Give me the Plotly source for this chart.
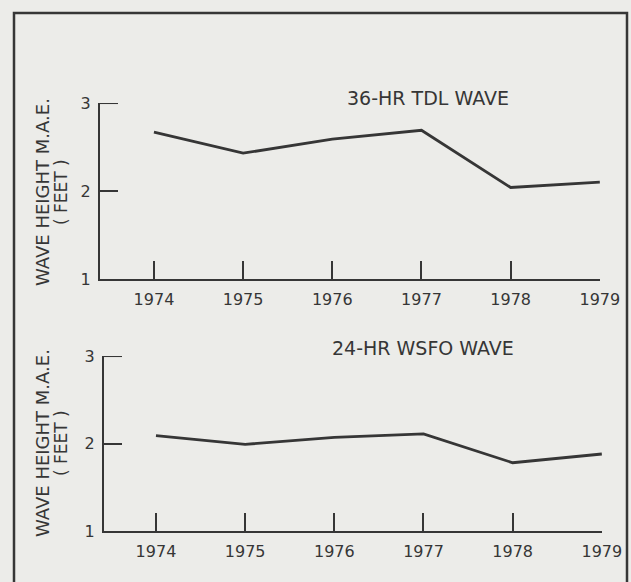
import plotly.graph_objects as go

years = [1974, 1975, 1976, 1977, 1978, 1979]
tdl_36hr = [2.67, 2.43, 2.59, 2.69, 2.04, 2.10]
wsfo_24hr = [2.09, 1.99, 2.07, 2.11, 1.78, 1.88]
y_ticks = [1, 2, 3]
panel_titles = ["36-HR TDL WAVE", "24-HR WSFO WAVE"]
y_title = "WAVE HEIGHT M.A.E."
y_subtitle = "( FEET )"

W, H = 631, 582
BG = "#ecece9"
INK = "#363636"
FONT = "DejaVu Sans"
TICKLEN = 18

def px(x):
    return x / W

def py(y):
    return (H - y) / H

fig = go.Figure()
fig.add_trace(go.Scatter(x=years, y=tdl_36hr, mode="lines", xaxis="x", yaxis="y",
                         line=dict(color=INK, width=2.8), showlegend=False, hoverinfo="skip"))
fig.add_trace(go.Scatter(x=years, y=wsfo_24hr, mode="lines", xaxis="x2", yaxis="y2",
                         line=dict(color=INK, width=2.8), showlegend=False, hoverinfo="skip"))

def xaxis(domain, rng, anchor):
    return dict(domain=domain, range=rng, anchor=anchor, tickvals=years,
                ticktext=[str(y) for y in years], showline=True, linecolor=INK, linewidth=2,
                ticks="inside", ticklen=TICKLEN, tickwidth=2, tickcolor=INK, showgrid=False,
                zeroline=False, tickfont=dict(family=FONT, size=16, color=INK),
                ticklabelstandoff=5, automargin=False)

def yaxis(domain, anchor):
    return dict(domain=domain, range=[0.9995, 3.0005], anchor=anchor, tickvals=y_ticks,
                ticktext=[str(v) for v in y_ticks], showline=True, linecolor=INK, linewidth=2,
                ticks="inside", ticklen=TICKLEN, tickwidth=2, tickcolor=INK, showgrid=False,
                zeroline=False, tickfont=dict(family=FONT, size=16, color=INK),
                ticklabelstandoff=4, automargin=False)

x1_dom = [px(100), px(600)]
x2_dom = [px(104), px(602)]
fig.update_layout(
    xaxis=xaxis(x1_dom, [1973.395, 1979.002], "y"),
    yaxis=yaxis([py(279), py(103)], "x"),
    xaxis2=xaxis(x2_dom, [1973.417, 1979.002], "y2"),
    yaxis2=yaxis([py(531), py(356)], "x2"),
)

annotations = []
for title, (tx, ty), (lx, ly, sx) in zip(
        panel_titles,
        [(428, 98), (423, 348)],
        [(42, 192, 61), (42, 443, 61)]):
    annotations.append(dict(x=px(tx), y=py(ty), xref="paper", yref="paper", text=title,
                            showarrow=False, font=dict(family=FONT, size=19, color=INK),
                            xanchor="center", yanchor="middle"))
    annotations.append(dict(x=px(lx), y=py(ly), xref="paper", yref="paper", text=y_title,
                            textangle=-90, showarrow=False,
                            font=dict(family=FONT, size=18, color=INK),
                            xanchor="center", yanchor="middle"))
    annotations.append(dict(x=px(sx), y=py(ly), xref="paper", yref="paper", text=y_subtitle,
                            textangle=-90, showarrow=False,
                            font=dict(family=FONT, size=17, color=INK),
                            xanchor="center", yanchor="middle"))

shapes = [dict(type="rect", xref="paper", yref="paper",
               x0=px(14), x1=px(627), y0=py(600), y1=py(13),
               line=dict(color=INK, width=2.5))]
# top-of-axis tick (plotly omits the inside tick at the axis end)
for xr, yr, dom in [("x domain", "y", x1_dom), ("x2 domain", "y2", x2_dom)]:
    frac = TICKLEN / ((dom[1] - dom[0]) * W)
    shapes.append(dict(type="line", xref=xr, yref=yr, x0=0, x1=frac,
                       y0=y_ticks[-1], y1=y_ticks[-1], line=dict(color=INK, width=2)))

fig.update_layout(
    width=W, height=H,
    margin=dict(l=0, r=0, t=0, b=0, autoexpand=False),
    paper_bgcolor=BG, plot_bgcolor=BG,
    annotations=annotations,
    shapes=shapes,
)

post = ("document.documentElement.style.overflow='hidden';"
        "document.body.style.margin='0';document.body.style.overflow='hidden';"
        "var d=document.getElementById('{plot_id}');"
        "d.style.position='fixed';d.style.left='0px';d.style.top='0px';")

fig.write_html("out.html", config={"displayModeBar": False}, post_script=post)
